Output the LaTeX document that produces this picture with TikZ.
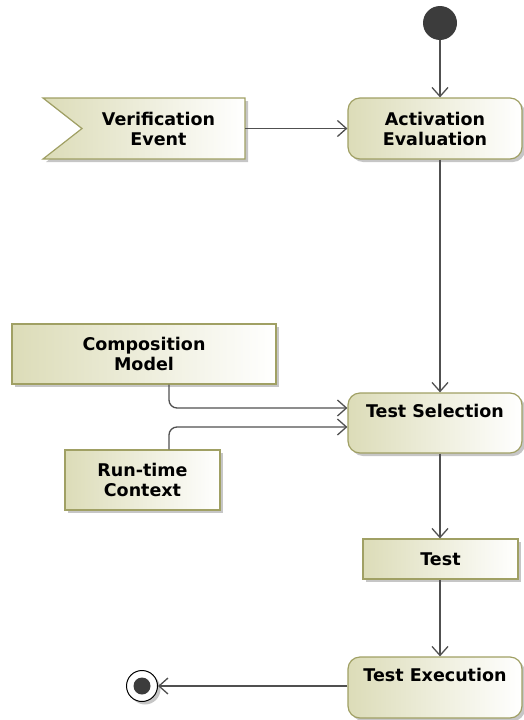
\documentclass[tikz,border=0pt]{standalone}
\usepackage{fontspec}
\setmainfont{DejaVu Sans}
\usetikzlibrary{arrows.meta,shadows}
\definecolor{boxfill}{RGB}{220,220,184}
\definecolor{boxdraw}{RGB}{160,160,100}
\definecolor{edgecol}{RGB}{80,80,80}
\definecolor{dotcol}{RGB}{60,60,60}
\begin{document}
\begin{tikzpicture}[x=1pt,y=-1pt,
  every node/.style={font=\fontsize{17.5}{20}\selectfont\bfseries, align=center, inner sep=0pt},
  shadowed/.style={drop shadow={shadow xshift=3pt,shadow yshift=-3pt,opacity=0.45,fill=gray}},
  objbox/.style={rectangle, draw=boxdraw, line width=1.2pt, left color=boxfill, right color=white, shadowed},
  actbox/.style={objbox, rounded corners=12pt},
  flow/.style={draw=edgecol, line width=1.3pt, -{Straight Barb[length=9pt,width=16pt]}}
]
\useasboundingbox (0,0) rectangle (524,720);

% initial node
\node[circle, fill=dotcol, minimum size=34pt] (init) at (440,23) {};

% signal receipt shape
\draw[draw=boxdraw, line width=1.2pt, left color=boxfill, right color=white, shadowed]
  (43,98) -- (245,98) -- (245,159) -- (43,159) -- (82,128.5) -- cycle;
\node[minimum width=173pt, minimum height=61pt] (ve) at (158.5,128.5) {Verification\\Event};

% actions and objects
\node[actbox, minimum width=174pt, minimum height=61pt] (ae) at (435,128.5) {Activation\\Evaluation};
\node[objbox, minimum width=264pt, minimum height=60pt] (cm) at (144,354) {Composition\\Model};
\node[objbox, minimum width=155pt, minimum height=60pt] (rc) at (142.5,480) {Run-time\\Context};
\node[actbox, minimum width=174pt, minimum height=60pt] (ts) at (435,423) {Test Selection\\[5pt]~};
\node[objbox, minimum width=155pt, minimum height=40pt] (test) at (440.5,559) {Test};
\node[actbox, minimum width=174pt, minimum height=61pt] (te) at (435,687.5) {Test Execution\\[5pt]~};

% final node
\node[circle, draw=black, line width=1pt, fill=white, minimum size=31pt, shadowed] (fin) at (142,686) {};
\fill[dotcol] (fin) circle (8.5);

% connectors
\draw[flow] (init) -- (init |- ae.north);
\draw[flow] (ve.east) -- (ae.west);
\draw[flow] (ae.south -| init) -- (ts.north -| init);
\draw[flow, rounded corners=8pt] ([xshift=25pt]cm.south) |- ([yshift=15pt]ts.west);
\draw[flow, rounded corners=8pt] ([xshift=26.5pt]rc.north) |- ([yshift=-4pt]ts.west);
\draw[flow] (ts.south -| init) -- (test.north -| init);
\draw[flow] (test.south -| init) -- (te.north -| init);
\draw[flow] (fin -| te.west) -- (fin);
\end{tikzpicture}
\end{document}
